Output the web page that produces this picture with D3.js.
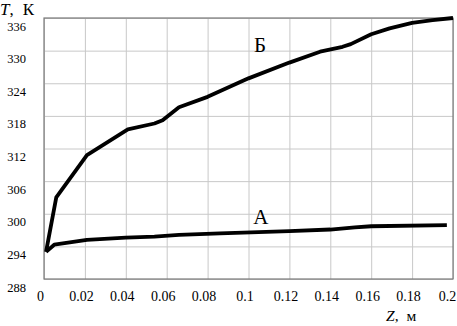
<!DOCTYPE html>
<html>
<head>
<meta charset="utf-8">
<script src="https://cdn.jsdelivr.net/npm/d3@7"></script>
<style>
  body { margin: 0; background: #fff; }
</style>
</head>
<body>
<div id="chart"></div>
<script>
// series: Z (m) vs T (K)
const zB = [0.001, 0.006, 0.021, 0.041, 0.054, 0.058, 0.066, 0.08, 0.1, 0.12, 0.135, 0.146, 0.15, 0.16, 0.169, 0.18, 0.19, 0.2];
const tB = [293, 303, 310.8, 315.5, 316.6, 317.2, 319.6, 321.5, 324.9, 327.8, 329.8, 330.7, 331.2, 333, 334.1, 335.1, 335.6, 336];
const zA = [0.001, 0.005, 0.021, 0.04, 0.054, 0.066, 0.086, 0.12, 0.14, 0.152, 0.16, 0.197];
const tA = [293, 294.3, 295.2, 295.6, 295.8, 296.1, 296.4, 296.8, 297.1, 297.5, 297.7, 297.9];

const xTicks = [0, 0.02, 0.04, 0.06, 0.08, 0.1, 0.12, 0.14, 0.16, 0.18, 0.2];
const xTickLabels = ["0", "0.02", "0.04", "0.06", "0.08", "0.1", "0.12", "0.14", "0.16", "0.18", "0.2"];
const yTicks = [288, 294, 300, 306, 312, 318, 324, 330, 336];

const W = 457, H = 326;
const margin = { top: 18, right: 4, bottom: 47, left: 44 };
const width = W - margin.left - margin.right;
const height = H - margin.top - margin.bottom;
const serif = "'Liberation Serif', serif";

const svg = d3.select("#chart").append("svg")
    .attr("width", W)
    .attr("height", H)
    .attr("font-family", serif);

const g = svg.append("g")
    .attr("transform", "translate(" + margin.left + "," + margin.top + ")");

const x = d3.scaleLinear().domain([0, 0.2]).range([0, width]);
const y = d3.scaleLinear().domain([288, 336]).range([height, 0]);

// grid + tick labels
const xAxis = d3.axisBottom(x)
    .tickValues(xTicks)
    .tickFormat((d, i) => xTickLabels[i])
    .tickSize(-height)
    .tickPadding(0);

const yAxis = d3.axisLeft(y)
    .tickValues(yTicks)
    .tickSize(-width)
    .tickPadding(0);

const gx = g.append("g")
    .attr("transform", "translate(0," + height + ")")
    .call(xAxis)
    .attr("font-family", serif)
    .attr("font-size", 14);
gx.select(".domain").remove();
gx.selectAll("line").attr("stroke", "#c8c8c8").attr("stroke-width", 1);
gx.selectAll("text")
    .attr("dy", null)
    .attr("y", 22)
    .attr("dx", (d, i) => i === xTicks.length - 1 ? -6 : -4)
    .attr("fill", "#000");

const gy = g.append("g").call(yAxis)
    .attr("font-family", serif)
    .attr("font-size", 12.5);
gy.select(".domain").remove();
gy.selectAll("line").attr("stroke", "#c8c8c8").attr("stroke-width", 1);
gy.selectAll("text")
    .attr("x", -18)
    .attr("dy", 12)
    .attr("fill", "#000");

// frame
g.append("rect")
    .attr("x", 0).attr("y", 0)
    .attr("width", width).attr("height", height)
    .attr("fill", "none")
    .attr("stroke", "#7a7a7a")
    .attr("stroke-width", 1.2);

const line = d3.line()
    .x(d => x(d[0]))
    .y(d => y(d[1]));

g.append("path")
    .datum(zA.map((z, i) => [z, tA[i]]))
    .attr("fill", "none")
    .attr("stroke", "#000")
    .attr("stroke-width", 3.8)
    .attr("stroke-linejoin", "round")
    .attr("d", line);

g.append("path")
    .datum(zB.map((z, i) => [z, tB[i]]))
    .attr("fill", "none")
    .attr("stroke", "#000")
    .attr("stroke-width", 3.8)
    .attr("stroke-linejoin", "round")
    .attr("d", line);

// curve labels
g.append("text")
    .attr("x", x(0.1056))
    .attr("y", y(329.7))
    .attr("text-anchor", "middle")
    .attr("font-size", 21)
    .text("Б");

g.append("text")
    .attr("x", x(0.106))
    .attr("y", y(298.1))
    .attr("text-anchor", "middle")
    .attr("font-size", 21)
    .text("А");

// axis titles
const ty = svg.append("text")
    .attr("x", 0)
    .attr("y", 15)
    .attr("font-size", 17);
ty.append("tspan").attr("font-style", "italic").text("T");
ty.append("tspan").text(",");
ty.append("tspan").attr("dx", 9).text("К");

const tx = svg.append("text")
    .attr("x", 386)
    .attr("y", 321)
    .attr("font-size", 15.5);
tx.append("tspan").attr("font-style", "italic").text("Z");
tx.append("tspan").text(",");
tx.append("tspan").attr("dx", 8).text("м");
</script>
</body>
</html>
